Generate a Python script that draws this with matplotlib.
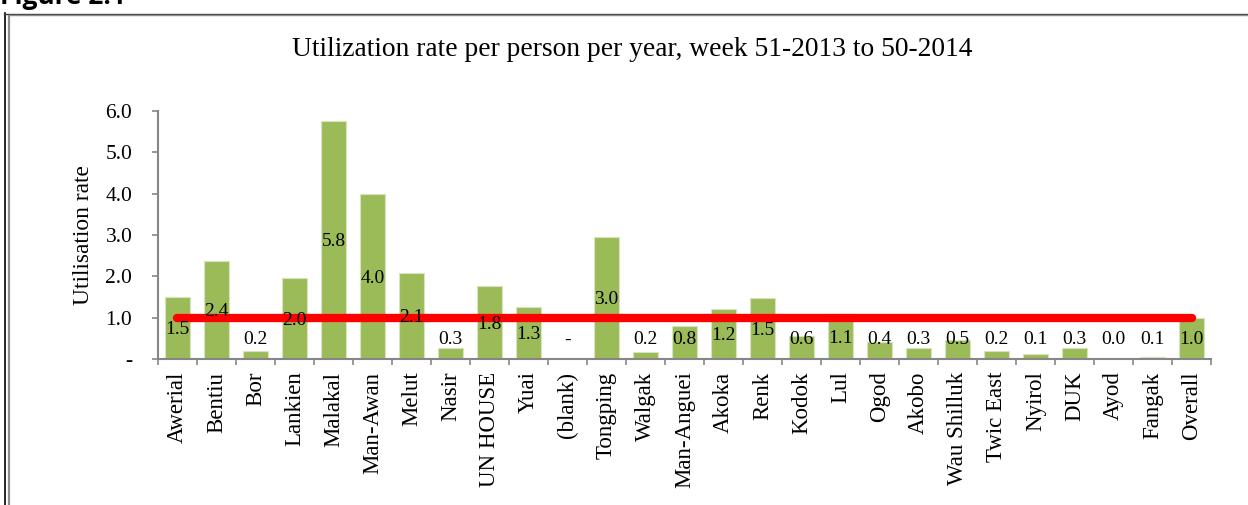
import numpy as np
import matplotlib
matplotlib.use("Agg")
import matplotlib.pyplot as plt
from matplotlib.lines import Line2D

plt.rcParams['font.family'] = ['Liberation Serif', 'DejaVu Serif']

# data
sites = ['Awerial', 'Bentiu', 'Bor', 'Lankien', 'Malakal', 'Man-Awan', 'Melut',
         'Nasir', 'UN HOUSE', 'Yuai', '(blank)', 'Tongping', 'Walgak',
         'Man-Anguei', 'Akoka', 'Renk', 'Kodok', 'Lul', 'Ogod', 'Akobo',
         'Wau Shilluk', 'Twic East', 'Nyirol', 'DUK', 'Ayod', 'Fangak', 'Overall']
rates = [1.51, 2.38, 0.19, 1.96, 5.77, 3.98, 2.09, 0.26, 1.76, 1.26, 0.0, 2.96,
         0.17, 0.79, 1.21, 1.48, 0.56, 1.08, 0.42, 0.26, 0.46, 0.19, 0.11, 0.27,
         0.01, 0.06, 0.98]
overall_rate = 0.98
yticks = [0, 1, 2, 3, 4, 5, 6]

def fmt(v):
    return '-' if v == 0 else f'{v:.1f}'

fig = plt.figure(figsize=(12.48, 5.05), dpi=100)
ax = fig.add_axes([0.1266, 0.2891, 0.8438, 0.4911])

x = np.arange(len(sites))
ax.bar(x, rates, width=0.62, color='#9BBB59', edgecolor='#D7E4BD', linewidth=0.8, zorder=2)
ax.plot([x[0], x[-1]], [overall_rate, overall_rate], color='#FF0000', lw=6,
        solid_capstyle='round', zorder=3)

# labels sit at the middle of the bar, but never lower than a fixed height
for xi, v in zip(x, rates):
    ax.text(xi, max(v / 2, 0.5) - 0.04, fmt(v), ha='center', va='center',
            fontsize=14, color='black', zorder=4)

ax.set_xlim(-0.5, len(sites) - 0.5)
ax.set_ylim(0, 6)
ax.set_yticks(yticks)
ax.set_yticklabels([fmt(t) for t in yticks], fontsize=15.5)
ax.set_xticks(x)
ax.set_xticklabels(sites, rotation=90, fontsize=16.5)
ax.set_xticks(np.arange(-0.5, len(sites)), minor=True)
ax.tick_params(axis='x', which='major', length=0, pad=9)
ax.tick_params(axis='x', which='minor', length=4.5, color='#868686', width=1.2)
ax.tick_params(axis='y', length=4.5, color='#868686', width=1.2, pad=14)
for s in ['top', 'right']:
    ax.spines[s].set_visible(False)
for s in ['left', 'bottom']:
    ax.spines[s].set_color('#868686')
    ax.spines[s].set_linewidth(1.5)
ax.set_ylabel('Utilisation rate', fontsize=16.8, va='center')
ax.yaxis.set_label_coords(-0.0712, 0.498)

fig.text(0.5064, 0.901, 'Utilization rate per person per year, week 51-2013 to 50-2014',
         ha='center', va='center', fontsize=19.8)

# page frame and cropped caption
fig.add_artist(Line2D([4.5 / 1248, 4.5 / 1248], [0, 1 - 13 / 505], color='black', lw=1.2))
fig.add_artist(Line2D([9 / 1248, 9 / 1248], [0, 1 - 15 / 505], color='#8C8C8C', lw=1.6))
fig.add_artist(Line2D([4 / 1248, 1], [1 - 13.5 / 505, 1 - 13.5 / 505], color='#404040', lw=1.0))
fig.add_artist(Line2D([9 / 1248, 1], [1 - 15.2 / 505, 1 - 15.2 / 505], color='#8C8C8C', lw=1.0))
fig.text(0.0, 1 - 4 / 505, 'Figure 2.1', ha='left', va='baseline', fontsize=19,
         fontweight='bold', family=['Open Sans', 'DejaVu Sans'])

fig.savefig('out.png', dpi=100)
